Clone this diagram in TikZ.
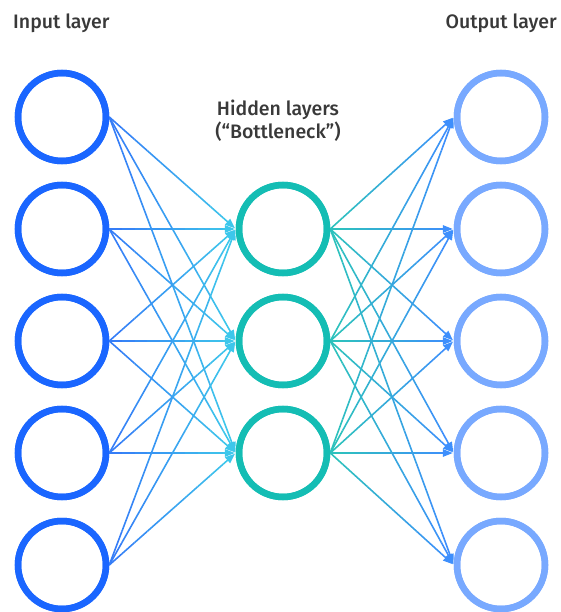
\documentclass[tikz,border=0pt]{standalone}
\usepackage{fontspec}
\setmainfont{Fira Sans}
\newfontfamily\labelfont{Fira Sans Medium}
\usetikzlibrary{calc,arrows.meta}

\definecolor{inRing}{HTML}{1A66FF}
\definecolor{hidRing}{HTML}{14BDB4}
\definecolor{outRing}{HTML}{78A9FF}
\definecolor{edgeInA}{HTML}{3479F8}
\definecolor{edgeInB}{HTML}{3ECBEA}
\definecolor{edgeOutA}{HTML}{2CC4BA}
\definecolor{edgeOutB}{HTML}{3F8CFF}
\definecolor{labelGray}{HTML}{393939}

\tikzset{
  neuron/.style={circle, minimum size=88pt, inner sep=0pt, line width=6.5pt, fill=white},
  inneuron/.style={neuron, draw=inRing},
  hidneuron/.style={neuron, draw=hidRing},
  outneuron/.style={neuron, draw=outRing},
  layerlabel/.style={font=\labelfont\fontsize{19.5}{23}\selectfont, text=labelGray, inner sep=0pt, align=center},
  linkseg/.style={line width=1.6pt, line cap=butt},
  linktip/.style={line width=1.6pt, -{Triangle[length=10pt,width=7.5pt]}, shorten >=1pt}
}

% \gradlink{from}{to}{start colour}{end colour}: a straight arrow whose colour
% blends along its length
\newcommand{\gradlink}[4]{%
  \path (#1.east) coordinate (ls) (#2.west) coordinate (le);
  \foreach \k in {0,...,8} {
    \pgfmathtruncatemacro{\pct}{100-100*(\k+0.5)/10}
    \draw[linkseg, draw={#3!\pct!#4}]
      ($(ls)!\k/10!(le)$) -- ($(ls)!{(\k+1)/10}!(le)$);
  }
  \draw[linktip, draw={#3!5!#4}, fill={#3!5!#4}] ($(ls)!0.9!(le)$) -- (le);
}

\begin{document}
\begin{tikzpicture}[x=1pt, y=1pt]
  \useasboundingbox (0,0) rectangle (560,-612);

  % layer titles
  \node[layerlabel, anchor=base west] (tIn) at (13,-29) {Input layer};
  \node[layerlabel, anchor=base east] (tOut) at (557,-29) {Output layer};
  \node[layerlabel, anchor=base] (tHid) at (278,-139) {Hidden layers\\(“Bottleneck”)};

  % neurons
  \foreach \i/\y in {1/117, 2/229, 3/341, 4/453, 5/565}
    \node[inneuron] (in\i) at (62,-\y) {};
  \foreach \j/\y in {1/229, 2/341, 3/453}
    \node[hidneuron] (hid\j) at (283,-\y) {};
  \foreach \k/\y in {1/117, 2/229, 3/341, 4/453, 5/565}
    \node[outneuron] (out\k) at (501,-\y) {};

  % connections
  \foreach \i in {1,...,5}
    \foreach \j in {1,2,3}
      {\gradlink{in\i}{hid\j}{edgeInA}{edgeInB}}
  \foreach \j in {1,2,3}
    \foreach \k in {1,...,5}
      {\gradlink{hid\j}{out\k}{edgeOutA}{edgeOutB}}

  % redraw rings above the link ends
  \foreach \i in {1,...,5}
    \draw[line width=6.5pt, draw=inRing] (in\i.center) circle (44);
  \foreach \j in {1,2,3}
    \draw[line width=6.5pt, draw=hidRing] (hid\j.center) circle (44);
  \foreach \k in {1,...,5}
    \draw[line width=6.5pt, draw=outRing] (out\k.center) circle (44);
\end{tikzpicture}
\end{document}
